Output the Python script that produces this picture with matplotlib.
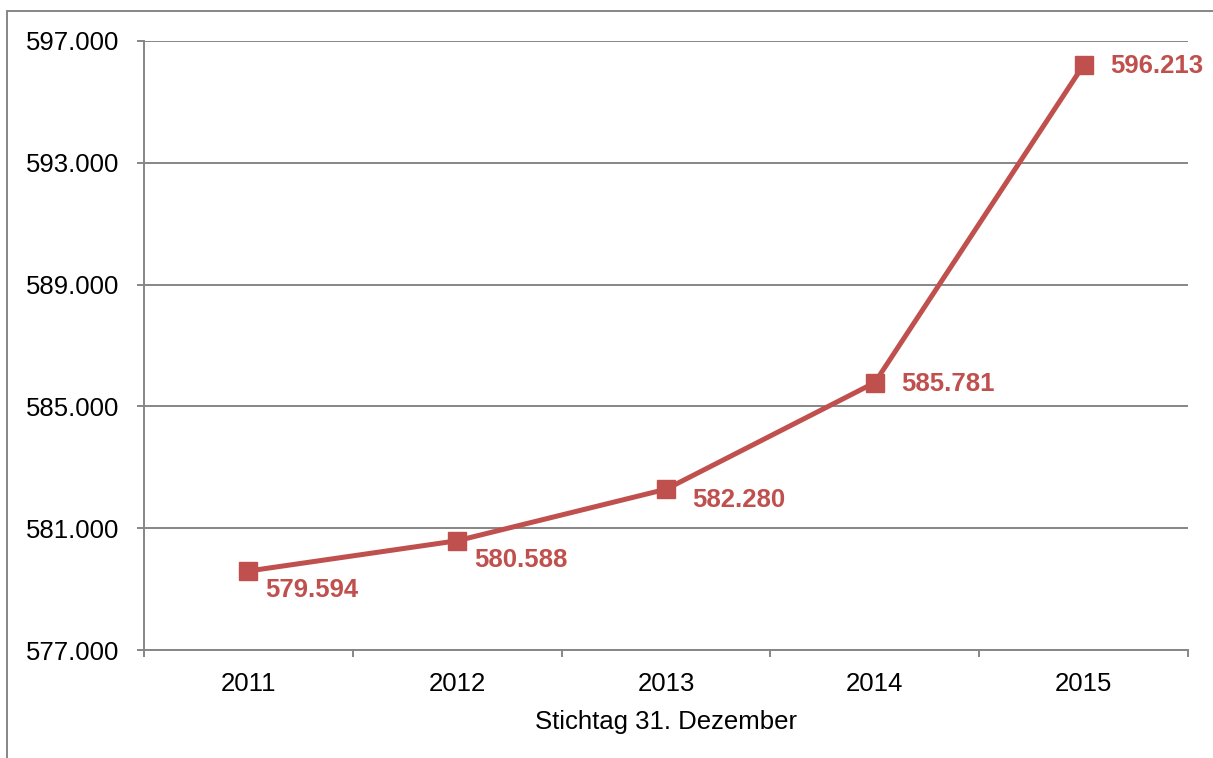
import matplotlib
matplotlib.use("Agg")
import matplotlib.pyplot as plt
from matplotlib.patches import Rectangle
from matplotlib.ticker import FuncFormatter, FixedLocator

plt.rcParams["font.family"] = ["Liberation Sans", "DejaVu Sans"]

years = ["2011", "2012", "2013", "2014", "2015"]
einwohner = [579594, 580588, 582280, 585781, 596213]
y_ticks = [577000, 581000, 585000, 589000, 593000, 597000]

RED = "#C0504D"
GRID = "#868686"

# label offsets in points (right of / below each marker)
label_off = [(12, -14), (12, -14), (19, -8), (19, -1), (19, -1)]


def de_fmt(v, _pos=None):
    return f"{v:,.0f}".replace(",", ".")


fig = plt.figure(figsize=(12.13, 7.58), dpi=100)
ax = fig.add_axes([144 / 1213, 1 - 650 / 758, (1188 - 144) / 1213, (650 - 41) / 758])

x = list(range(len(years)))
ax.plot(x, einwohner, color=RED, lw=3.6, marker="s", ms=13,
        markerfacecolor=RED, markeredgecolor=RED, zorder=3)

for xi, v, (dx, dy) in zip(x, einwohner, label_off):
    ax.annotate(de_fmt(v), (xi, v), xytext=(dx, dy), textcoords="offset points",
                ha="left", va="center", color=RED, fontsize=18.5,
                fontweight="bold")

ax.set_xlim(-0.5, len(years) - 0.5)
ax.set_ylim(y_ticks[0], y_ticks[-1])
ax.set_yticks(y_ticks)
ax.yaxis.set_major_formatter(FuncFormatter(de_fmt))
ax.grid(axis="y", color=GRID, lw=1.4)
ax.set_axisbelow(True)

# year labels centred, tick marks at category boundaries
ax.xaxis.set_major_locator(FixedLocator([i - 0.5 for i in range(len(years) + 1)]))
ax.xaxis.set_major_formatter(FuncFormatter(lambda v, p: ""))
ax.xaxis.set_minor_locator(FixedLocator(x))
ax.set_xticklabels(years, minor=True)
ax.tick_params(axis="x", which="major", length=5, width=1.4, color=GRID, direction="out")
ax.tick_params(axis="x", which="minor", length=0, pad=16, labelsize=18.5)
ax.tick_params(axis="y", length=5, width=1.4, color=GRID, labelsize=18.5, pad=13)

for s in ("top", "right"):
    ax.spines[s].set_visible(False)
for s in ("left", "bottom"):
    ax.spines[s].set_color(GRID)
    ax.spines[s].set_linewidth(1.4)

ax.set_xlabel("Stichtag 31. Dezember", fontsize=18.5, labelpad=10)

# outer chart frame
fig.patches.append(Rectangle((7 / 1213, -0.05), 1.2, 1 - 11 / 758 + 0.05,
                             transform=fig.transFigure, fill=False,
                             edgecolor=GRID, lw=1.4))

fig.savefig("out.png", dpi=100)
